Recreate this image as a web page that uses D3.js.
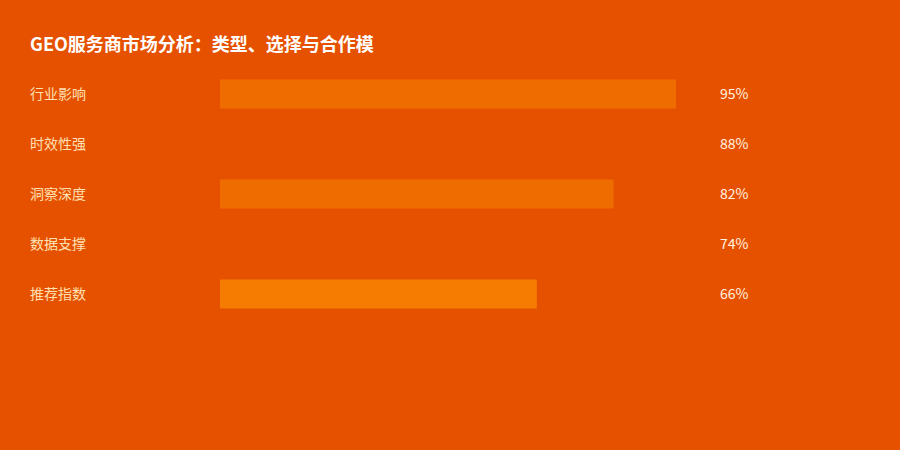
<!DOCTYPE html>
<html>
<head>
    <meta charset="utf-8">
    <style>
        body {
            margin: 0;
            background: #e65100;
            font-family: 'Noto Sans CJK SC', 'Noto Sans', sans-serif;
        }
        svg {
            display: block;
        }
    </style>
</head>
<body>
    <svg width="900" height="450"></svg>

<script src="https://d3js.org/d3.v7.min.js"></script>
<script>
    // chart data
    let categories = ["行业影响", "时效性强", "洞察深度", "数据支撑", "推荐指数"]
    let values = [95, 88, 82, 74, 66]
    let barColors = ["#ef6c00", "#e65100", "#ef6c00", "#e65100", "#f57c00"]

    let svg = d3.select("svg")

    svg.append("rect")
        .attr("width", 900)
        .attr("height", 450)
        .style("fill", "#e65100")

    svg.append("text")
        .attr("x", 30)
        .attr("y", 51)
        .text("GEO服务商市场分析：类型、选择与合作模")
        .style("fill", "#ffffff")
        .style("font-size", "18px")
        .style("font-weight", "bold")

    let x = d3.scaleLinear()
        .domain([0, 100])
        .range([220, 700])

    let y = d3.scaleBand()
        .domain(categories)
        .range([69, 319])
        .paddingInner(0.42)
        .paddingOuter(0.21)

    let rows = svg.append("g")
        .selectAll(".row")
        .data(categories)
        .join("g")
        .attr("class", "row")

    rows.append("rect")
        .attr("x", x(0))
        .attr("y", d => y(d))
        .attr("width", (d, i) => x(values[i]) - x(0))
        .attr("height", y.bandwidth())
        .style("fill", (d, i) => barColors[i])

    rows.append("text")
        .attr("x", 30)
        .attr("y", d => y(d) + y.bandwidth() / 2)
        .attr("dy", "0.35em")
        .text(d => d)
        .style("fill", "#ffe0b2")
        .style("font-size", "14px")

    rows.append("text")
        .attr("x", 720)
        .attr("y", d => y(d) + y.bandwidth() / 2)
        .attr("dy", "0.35em")
        .text((d, i) => values[i] + "%")
        .style("fill", "#fff3e0")
        .style("font-size", "14px")
</script>
</body>
</html>
